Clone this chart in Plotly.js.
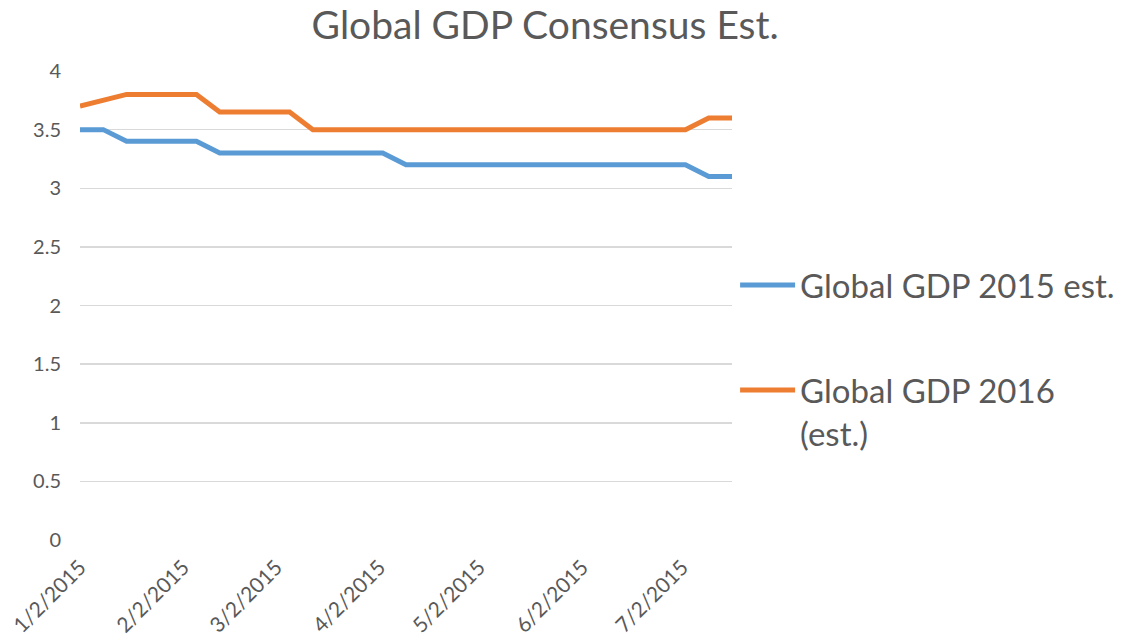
<!DOCTYPE html>
<html>
<head>
<meta charset="utf-8">
<script src="https://cdn.plot.ly/plotly-3.0.1.min.js"></script>
<style>html,body{margin:0;padding:0;background:#fff;}#chart{width:1124px;height:637px;}</style>
</head>
<body>
<div id="chart"></div>
<script>
// Weekly observation dates
const dates = [
  "2015-01-02","2015-01-09","2015-01-16","2015-01-23","2015-01-30",
  "2015-02-06","2015-02-13","2015-02-20","2015-02-27",
  "2015-03-06","2015-03-13","2015-03-20","2015-03-27",
  "2015-04-03","2015-04-10","2015-04-17","2015-04-24",
  "2015-05-01","2015-05-08","2015-05-15","2015-05-22","2015-05-29",
  "2015-06-05","2015-06-12","2015-06-19","2015-06-26",
  "2015-07-03","2015-07-10","2015-07-17"
];
const gdp2015 = [3.5,3.5,3.4,3.4,3.4,3.4,3.3,3.3,3.3,3.3,3.3,3.3,3.3,3.3,
  3.2,3.2,3.2,3.2,3.2,3.2,3.2,3.2,3.2,3.2,3.2,3.2,3.2,3.1,3.1];
const gdp2016 = [3.7,3.75,3.8,3.8,3.8,3.8,3.65,3.65,3.65,3.65,
  3.5,3.5,3.5,3.5,3.5,3.5,3.5,3.5,3.5,3.5,3.5,3.5,3.5,3.5,3.5,3.5,3.5,3.6,3.6];
const seriesNames = ["Global GDP 2015 est.", "Global GDP 2016<br>(est.)"];
const xTickVals = ["2015-01-02","2015-02-02","2015-03-02","2015-04-02","2015-05-02","2015-06-02","2015-07-02"];
const xTickText = ["1/2/2015","2/2/2015","3/2/2015","4/2/2015","5/2/2015","6/2/2015","7/2/2015"];
const yTickVals = [0,0.5,1,1.5,2,2.5,3,3.5,4];
const yTickText = ["0","0.5","1","1.5","2","2.5","3","3.5","4"];

const FONT = "Lato, 'Open Sans', sans-serif";
const traces = [
  {x: dates, y: gdp2015, name: seriesNames[0], type: "scatter", mode: "lines",
   line: {color: "#5B9BD5", width: 5}, legendgroup: "a"},
  {x: dates, y: gdp2016, name: seriesNames[1], type: "scatter", mode: "lines",
   line: {color: "#ED7D31", width: 5}, legendgroup: "b"}
];
const layout = {
  width: 1124, height: 637,
  margin: {l: 80, r: 392, t: 71, b: 97, autoexpand: false},
  paper_bgcolor: "#fff", plot_bgcolor: "#fff",
  font: {family: FONT, color: "#595959"},
  title: {text: "Global GDP Consensus Est.", font: {size: 39, color: "#595959", family: FONT},
          xref: "container", x: 0.485, xanchor: "center", yref: "container", y: 0.96, yanchor: "middle"},
  xaxis: {type: "date", range: ["2015-01-02", "2015-07-17"], tickmode: "array",
          tickvals: xTickVals, ticktext: xTickText, tickangle: -45,
          tickfont: {size: 21, color: "#595959"}, showgrid: false, zeroline: false,
          showline: false, ticks: "", ticklabelstandoff: 10},
  yaxis: {range: [0, 4], tickmode: "array", tickvals: yTickVals, ticktext: yTickText,
          tickfont: {size: 20, color: "#595959"}, showgrid: true, gridcolor: "#d9d9d9",
          gridwidth: 1.5, zeroline: false, showline: false, ticks: "", ticklabelstandoff: 18},
  showlegend: true,
  legend: {xref: "container", x: 0.654, xanchor: "left", yref: "container", y: 0.5965, yanchor: "top",
           traceorder: "grouped", tracegroupgap: 59, valign: "top",
           font: {size: 33, color: "#595959", family: FONT},
           bgcolor: "rgba(0,0,0,0)", itemwidth: 55}
};
Plotly.newPlot("chart", traces, layout, {displayModeBar: false, staticPlot: true});
</script>
</body>
</html>
